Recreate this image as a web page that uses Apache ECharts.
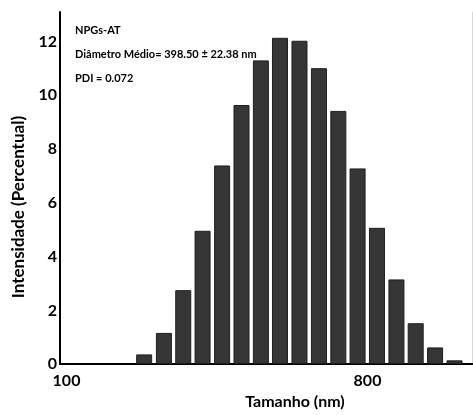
<!DOCTYPE html>
<html>
<head>
<meta charset="utf-8">
<script src="https://cdn.jsdelivr.net/npm/echarts@6/dist/echarts.min.js"></script>
<style>
  html, body { margin: 0; padding: 0; background: #fff; }
  #chart { width: 473px; height: 415px; }
</style>
</head>
<body>
<div id="chart"></div>
<script>
// bin centres (nm)
var tamanhos = [171, 196, 224, 256, 293, 335, 383, 437, 500, 572, 654, 747, 854, 977, 1116, 1276, 1459];
// intensity (%) per bin
var intensidades = [0.36, 1.16, 2.75, 4.96, 7.39, 9.64, 11.3, 12.14, 12.03, 11.01, 9.42, 7.28, 5.07, 3.15, 1.52, 0.62, 0.14];
var xTickLabels = [100, 800];
var infoLines = ['NPGs-AT', 'Diâmetro Médio= 398.50 ± 22.38 nm', 'PDI = 0.072'];

var FONT = 'Lato';

var seriesData = [];
for (var i = 0; i < tamanhos.length; i++) {
	seriesData.push([Math.log10(tamanhos[i]), intensidades[i]]);
}
var tickLog = xTickLabels.map(function(v) { return Math.log10(v); });

var graphics = [];
for (var j = 0; j < infoLines.length; j++) {
	graphics.push({
		type: 'text',
		left: 75,
		top: 25 + j * 24,
		style: {
			text: infoLines[j],
			fill: '#000',
			font: 'bold 11px ' + FONT
		}
	});
}

var option = {
	animation: false,
	grid: { left: 60, right: 1, top: 12, bottom: 41 },
	xAxis: [{
		type: 'value',
		min: 1.9805,
		max: 3.2166,
		name: 'Tamanho (nm)',
		nameLocation: 'middle',
		nameGap: 25,
		nameTextStyle: { color: '#000', fontFamily: FONT, fontWeight: 'bold', fontSize: 16, padding: [0, 0, 0, 58] },
		axisLine: { lineStyle: { color: '#000', width: 2 } },
		axisTick: { show: false },
		splitLine: { show: false },
		axisLabel: {
			customValues: tickLog,
			margin: 9,
			color: '#000',
			fontFamily: FONT,
			fontWeight: 'bold',
			fontSize: 16,
			formatter: function(v) { return Math.round(Math.pow(10, v)); }
		}
	}, {
		type: 'value',
		position: 'top',
		min: 1.9805,
		max: 3.2166,
		axisLine: { show: true, lineStyle: { color: '#000', width: 2 } },
		axisTick: { show: false },
		axisLabel: { show: false },
		splitLine: { show: false }
	}],
	yAxis: [{
		type: 'value',
		min: 0,
		max: 13.1,
		interval: 2,
		name: 'Intensidade (Percentual)',
		nameLocation: 'middle',
		nameGap: 33,
		nameTextStyle: { color: '#000', fontFamily: FONT, fontWeight: 'bold', fontSize: 17, padding: [0, 38, 0, 0] },
		axisLine: { show: true, lineStyle: { color: '#000', width: 2 } },
		axisTick: { show: false },
		splitLine: { show: false },
		axisLabel: {
			margin: 3,
			showMaxLabel: false,
			color: '#000',
			fontFamily: FONT,
			fontWeight: 'bold',
			fontSize: 16
		}
	}, {
		type: 'value',
		position: 'right',
		min: 0,
		max: 13.1,
		axisLine: { show: true, lineStyle: { color: '#d8d8d8', width: 1 } },
		axisTick: { show: false },
		axisLabel: { show: false },
		splitLine: { show: false }
	}],
	graphic: graphics,
	series: [{
		type: 'bar',
		data: seriesData,
		barWidth: 16,
		itemStyle: { color: '#363636', borderColor: '#1e1e1e', borderWidth: 1 }
	}]
};

var myChart = echarts.init(document.getElementById('chart'));
myChart.setOption(option);
</script>
</body>
</html>
